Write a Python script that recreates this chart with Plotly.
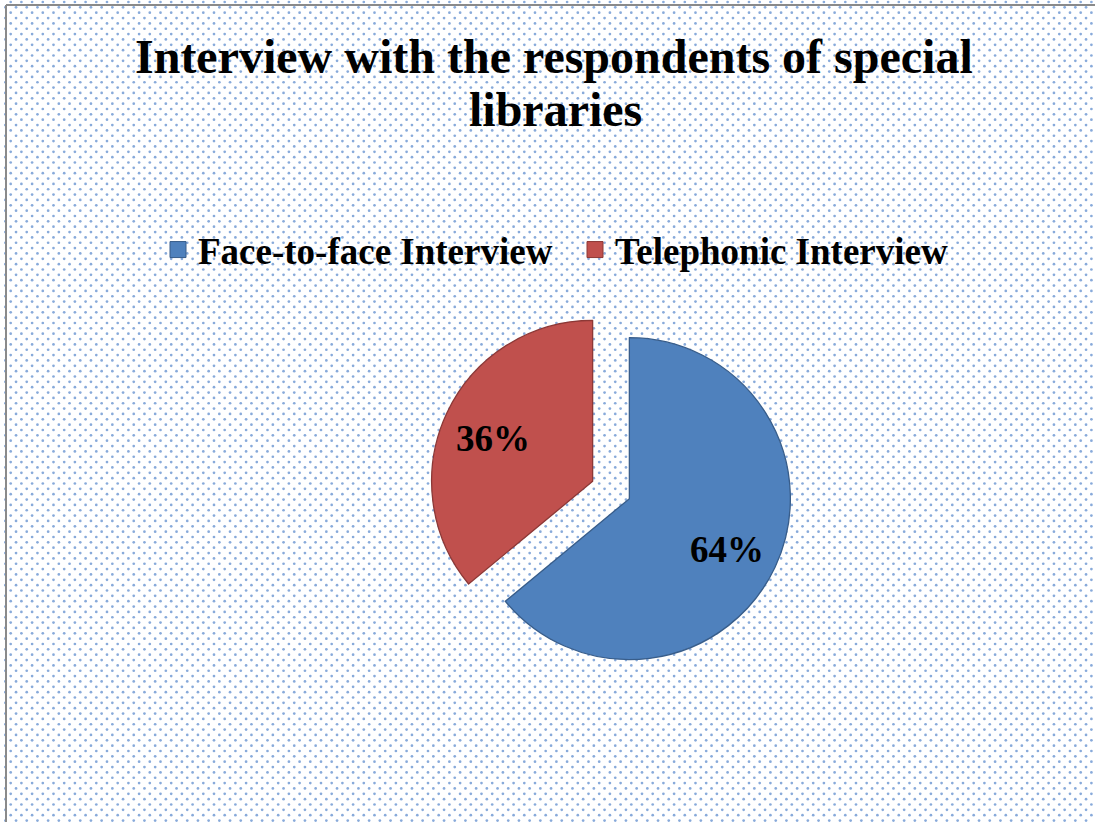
import numpy as np
import plotly.graph_objects as go

# Survey data
categories = ["Face-to-face Interview", "Telephonic Interview"]
values = [64, 36]
colors = ["#4F81BD", "#C0504D"]
edge_colors = ["#385D8A", "#8C3836"]
title_lines = ["Interview with the respondents of special", "libraries"]

W, H = 1095, 822
SERIF = "Liberation Serif, Times New Roman, serif"

# Staggered dot lattice used as the chart-area backdrop
step = 10.7
xs, ys = [], []
for j, y in enumerate(np.arange(2.0, H + step, step / 2)):
    off = 0.0 if j % 2 == 0 else step / 2
    for x in np.arange(10.7 - off, W + step, step):
        xs.append(x)
        ys.append(y)

fig = go.Figure()
fig.add_trace(go.Scatter(
    x=xs, y=ys, mode="markers",
    marker=dict(size=2.7, color="rgba(79,129,200,0.68)", line=dict(width=0)),
    hoverinfo="skip", showlegend=False,
))

# Pie placement (pixel centre and half-size, converted to paper fractions)
cx, cy, half = 611, 490, 181.3
pull = 0.126
fig.add_trace(go.Pie(
    labels=categories, values=values,
    sort=False, direction="clockwise", rotation=0,
    pull=[pull] * len(values),
    marker=dict(colors=colors, line=dict(color=edge_colors, width=1.3)),
    textinfo="none", showlegend=False,
    domain=dict(x=[(cx - half) / W, (cx + half) / W],
                y=[1 - (cy + half) / H, 1 - (cy - half) / H]),
))

# Percentage labels, placed along each slice's mid-angle
r = half / (1 + pull)
total = float(sum(values))
start = 0.0
for v in values:
    frac = v / total
    mid = np.deg2rad((start + frac / 2) * 360.0)  # clockwise from 12 o'clock
    dx, dy = np.sin(mid), -np.cos(mid)
    dist = r * pull + 0.68 * r
    fig.add_annotation(
        text="<b>%d%%</b>" % round(frac * 100),
        x=cx + dx * dist - 1, y=cy + dy * dist + 4, xref="x", yref="y",
        showarrow=False, xanchor="center", yanchor="middle",
        font=dict(family=SERIF, size=37, color="black"))
    start += frac

# Legend entries with large square swatches
for name, c, ec in zip(categories, colors, edge_colors):
    fig.add_trace(go.Scatter(
        x=[None], y=[None], mode="markers", name=name,
        marker=dict(symbol="square", size=20, color=c, line=dict(color=ec, width=1)),
    ))

fig.add_annotation(text="<b>%s</b>" % title_lines[0], x=554 / W, y=1 - 57 / H,
                   xref="paper", yref="paper", showarrow=False,
                   xanchor="center", yanchor="middle",
                   font=dict(family=SERIF, size=48, color="black"))
fig.add_annotation(text="<b>%s</b>" % title_lines[1], x=555 / W, y=1 - 110 / H,
                   xref="paper", yref="paper", showarrow=False,
                   xanchor="center", yanchor="middle",
                   font=dict(family=SERIF, size=48, color="black"))

# Frame lines along the top and left edges
fig.add_shape(type="line", xref="paper", yref="paper", x0=6 / W, x1=1, y0=1 - 5 / H, y1=1 - 5 / H,
              line=dict(color="#8a8a8a", width=2))
fig.add_shape(type="line", xref="paper", yref="paper", x0=6 / W, x1=6 / W, y0=0, y1=1 - 5 / H,
              line=dict(color="#8a8a8a", width=2))

fig.update_layout(
    width=W, height=H,
    margin=dict(l=0, r=0, t=0, b=0),
    paper_bgcolor="white", plot_bgcolor="rgba(0,0,0,0)",
    xaxis=dict(range=[0, W], visible=False, fixedrange=True),
    yaxis=dict(range=[H, 0], visible=False, fixedrange=True),
    showlegend=True,
    legend=dict(orientation="h", x=158 / W, xanchor="left", y=1 - 250 / H, yanchor="middle",
                bgcolor="rgba(0,0,0,0)", itemsizing="trace",
                entrywidth=372, entrywidthmode="pixels",
                font=dict(family=SERIF, size=37, color="black", weight="bold")),
)

fig.write_html("out.html")
